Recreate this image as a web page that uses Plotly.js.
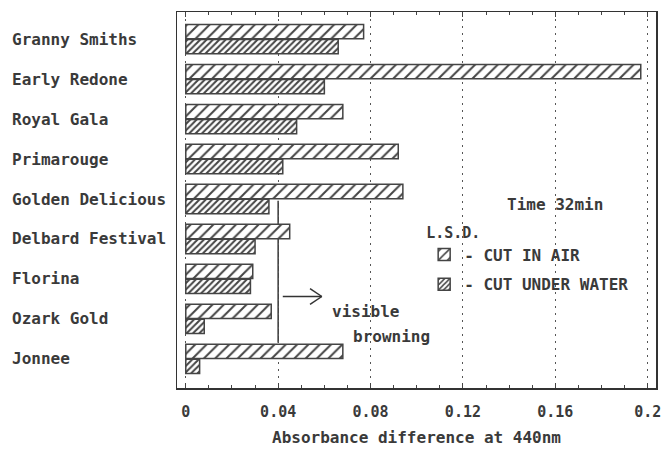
<!DOCTYPE html>
<html>
<head>
<meta charset="utf-8">
<script src="https://cdn.plot.ly/plotly-3.0.1.min.js"></script>
<style>html,body{margin:0;padding:0;background:#fff;}#chart{width:663px;height:454px;}</style>
</head>
<body>
<div id="chart"></div>
<script>
const varieties = ["Granny Smiths","Early Redone","Royal Gala","Primarouge","Golden Delicious","Delbard Festival","Florina","Ozark Gold","Jonnee"];
const cutInAir = [0.077, 0.197, 0.068, 0.092, 0.094, 0.045, 0.029, 0.037, 0.068];
const cutUnderWater = [0.066, 0.060, 0.048, 0.042, 0.036, 0.030, 0.028, 0.008, 0.006];
const seriesNames = ["- CUT IN AIR", "- CUT UNDER WATER"];
const xTickVals = [0, 0.04, 0.08, 0.12, 0.16, 0.2];
const xTickText = ["0", "0.04", "0.08", "0.12", "0.16", "0.2"];
const lsdValue = 0.04;

const FONT = "DejaVu Sans Mono, Liberation Mono, monospace";
const INK = "#3a3a3a";
const bold = s => "<b>" + s + "</b>";

const traces = [
  {
    type: "bar", orientation: "h", name: bold(seriesNames[0]),
    y: varieties, x: cutInAir,
    marker: {color: "#fff", line: {color: "#444", width: 1.5},
      pattern: {shape: "/", size: 8, solidity: 0.25, fgcolor: "#444", bgcolor: "#fff", fillmode: "replace"}},
    legendgroup: "a"
  },
  {
    type: "bar", orientation: "h", name: bold(seriesNames[1]),
    y: varieties, x: cutUnderWater,
    marker: {color: "#fff", line: {color: "#444", width: 1.5},
      pattern: {shape: "/", size: 4.5, solidity: 0.45, fgcolor: "#444", bgcolor: "#fff", fillmode: "replace"}},
    legendgroup: "b"
  }
];

const annotations = varieties.map(v => ({
  xref: "paper", yref: "y", x: -0.3486, y: v, xanchor: "left", yanchor: "middle",
  text: bold(v), showarrow: false,
  font: {family: FONT, size: 16, color: INK}
}));
annotations.push(
  {xref: "x", yref: "y", x: 0.0778, y: 6.82, text: bold("visible"), showarrow: false,
   font: {family: FONT, size: 16, color: INK}},
  {xref: "x", yref: "y", x: 0.0889, y: 7.445, text: bold("browning"), showarrow: false,
   font: {family: FONT, size: 16, color: INK}},
  {xref: "x", yref: "y", x: 0.1597, y: 4.15, text: bold("Time 32min"), showarrow: false,
   font: {family: FONT, size: 16, color: INK}}
);

const shapes = [
  {type: "line", xref: "x", yref: "y", x0: lsdValue, x1: lsdValue, y0: 4.045, y1: 7.6,
   line: {color: "#333", width: 1.5}, layer: "below"},
  {type: "line", xref: "x", yref: "y", x0: 0.042, x1: 0.0589, y0: 6.44, y1: 6.44,
   line: {color: "#333", width: 1.5}},
  {type: "line", xref: "x", yref: "y", x0: 0.0589, x1: 0.0538, y0: 6.44, y1: 6.24,
   line: {color: "#333", width: 1.5}},
  {type: "line", xref: "x", yref: "y", x0: 0.0589, x1: 0.0538, y0: 6.44, y1: 6.64,
   line: {color: "#333", width: 1.5}}
];

const layout = {
  width: 663, height: 454,
  margin: {l: 177, r: 7, t: 12, b: 66},
  paper_bgcolor: "#fff", plot_bgcolor: "#fff",
  barmode: "group", bargap: 0.25, bargroupgap: 0.04,
  font: {family: FONT, color: INK},
  xaxis: {
    range: [-0.0038, 0.2036], tickvals: xTickVals, ticktext: xTickText.map(bold),
    showgrid: true, gridcolor: "#555", gridwidth: 1, griddash: "2px,5px",
    zeroline: false, showline: true, linecolor: "#333", linewidth: 1.5, mirror: "allticks",
    ticks: "inside", ticklen: 5, tickcolor: "#444", tickwidth: 1,
    minor: {dtick: 0.01, tick0: 0, ticks: "inside", ticklen: 3, tickcolor: "#444", showgrid: false},
    ticklabelstandoff: 9,
    tickfont: {family: FONT, size: 15, color: INK},
    title: {text: bold("Absorbance difference at 440nm"), standoff: 12,
      font: {family: FONT, size: 16, color: INK}},
    automargin: false
  },
  yaxis: {
    type: "category", range: [8.73, -0.68],
    showticklabels: false, showgrid: false, zeroline: false,
    showline: true, linecolor: "#333", linewidth: 1.5, mirror: true, ticks: "",
    automargin: false
  },
  showlegend: true,
  legend: {
    x: 0.516, y: 0.452, xanchor: "left", yanchor: "top",
    bgcolor: "rgba(0,0,0,0)", borderwidth: 0,
    title: {text: bold("L.S.D."), font: {family: FONT, size: 15, color: INK}},
    font: {family: FONT, size: 16, color: INK},
    traceorder: "grouped", tracegroupgap: 6, itemwidth: 30
  },
  annotations: annotations,
  shapes: shapes
};

Plotly.newPlot("chart", traces, layout, {staticPlot: true, displayModeBar: false});
</script>
</body>
</html>
